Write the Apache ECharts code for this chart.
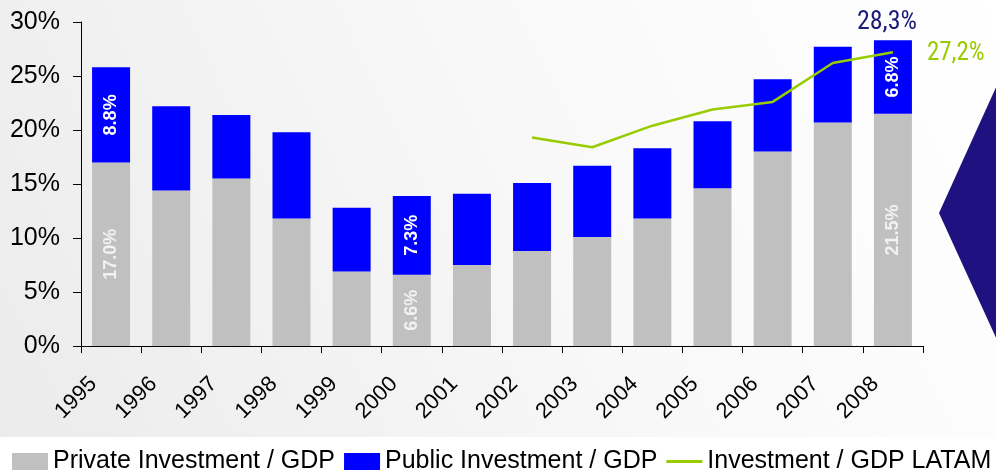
<!DOCTYPE html>
<html><head><meta charset="utf-8">
<script src="https://cdn.jsdelivr.net/npm/echarts@6/dist/echarts.min.js"></script>
<style>html,body{margin:0;padding:0;}#c{width:996px;height:476px;}</style>
</head><body><div id="c"></div>
<script>
const years = ['1995','1996','1997','1998','1999','2000','2001','2002','2003','2004','2005','2006','2007','2008'];
const privateInv = [17.0,14.4,15.5,11.8,6.9,6.6,7.5,8.8,10.1,11.8,14.6,18.0,20.7,21.5];
const publicInv = [8.8,7.8,5.9,8.0,5.9,7.3,6.6,6.3,6.6,6.5,6.2,6.7,7.0,6.8];
const latam = [null,null,null,null,null,null,null,19.3,18.4,20.4,21.9,22.6,26.2,27.2];
const labelledYears = ['1995','2000','2008'];
const totalLabel = '28,3%';
const latamLabel = '27,2%';
const yTicks = [0,5,10,15,20,25,30];

const FONT = "'Liberation Sans', Arial, sans-serif";
const NARROW = "'Liberation Sans Narrow', 'Roboto Condensed', Roboto, sans-serif";

function barLabel(color){
  return {
    show: true, position: 'inside', rotate: 90, color: color,
    fontFamily: FONT, fontWeight: 'bold', fontSize: 18,
    formatter: p => labelledYears.includes(p.name) ? p.value.toFixed(1) + '%' : ''
  };
}

const chart = echarts.init(document.getElementById('c'), null, {renderer:'canvas'});
chart.setOption({
  animation: false,
  backgroundColor: {
    type: 'linear', x: 0, y: 1, x2: 1, y2: 0,
    colorStops: [{offset:0,color:'#ebebeb'},{offset:0.55,color:'#f8f8f8'},{offset:1,color:'#ffffff'}]
  },
  grid: {left: 81, right: 73, top: 22, bottom: 130},
  legend: {
    left: 12, bottom: 2, width: 1100, padding: 0, itemWidth: 36, itemHeight: 17, itemGap: 9,
    textStyle: {fontFamily: FONT, fontSize: 25, color: '#000'},
    data: [
      {name: 'Private Investment / GDP', icon: 'rect'},
      {name: 'Public Investment / GDP', icon: 'rect'},
      {name: 'Investment / GDP LATAM', icon: 'path://M0,0 L35,0 L35,3 L0,3 Z'}
    ]
  },
  xAxis: {
    type: 'category', data: years, boundaryGap: true,
    axisLine: {show: true, lineStyle: {color: '#000', width: 1}},
    axisTick: {show: true, length: 7, interval: 0, lineStyle: {color: '#000'}},
    axisLabel: {interval: 0, rotate: 45, margin: 17, padding: [0, 25, 0, 0],
      fontFamily: FONT, fontSize: 22, color: '#000'}
  },
  yAxis: {
    type: 'value', min: 0, max: 30, interval: 5,
    splitLine: {show: false},
    axisLine: {show: true, lineStyle: {color: '#000', width: 1}},
    axisTick: {show: true, length: 8, lineStyle: {color: '#000'}},
    axisLabel: {margin: 21, fontFamily: FONT, fontSize: 25, color: '#000',
      formatter: v => yTicks.includes(v) ? v + '%' : ''}
  },
  graphic: [
    {type: 'rect', silent: true, z: 0, shape: {x: 0, y: 437, width: 996, height: 39}, style: {fill: '#ffffff'}},
    {type: 'polygon', silent: true, shape: {points: [[997,85],[939,213],[997,340]]}, style: {fill: '#1f1180'}}
  ],
  series: [
    {
      name: 'Private Investment / GDP', type: 'bar', stack: 'inv', barWidth: 38,
      itemStyle: {color: '#c0c0c0'}, data: privateInv,
      label: barLabel('#f2f2f2')
    },
    {
      name: 'Public Investment / GDP', type: 'bar', stack: 'inv', barWidth: 38,
      itemStyle: {color: '#0000ff'}, data: publicInv,
      label: barLabel('#ffffff'),
      markPoint: {
        symbol: 'rect', symbolSize: 1, itemStyle: {color: 'rgba(0,0,0,0)'},
        label: {show: true, position: 'top', distance: 4, offset: [-6, 0], formatter: totalLabel,
          fontFamily: NARROW, fontSize: 26, color: '#1a1a7a'},
        data: [{coord: ['2008', privateInv[13] + publicInv[13]]}]
      }
    },
    {
      name: 'Investment / GDP LATAM', type: 'line', data: latam,
      showSymbol: false, symbol: 'none',
      lineStyle: {color: '#99cc00', width: 2.5}, itemStyle: {color: '#99cc00'},
      endLabel: {show: true, formatter: latamLabel, distance: 34, offset: [0, 2],
        fontFamily: NARROW, fontSize: 25, color: '#99cc00'}
    }
  ]
});
</script></body></html>
